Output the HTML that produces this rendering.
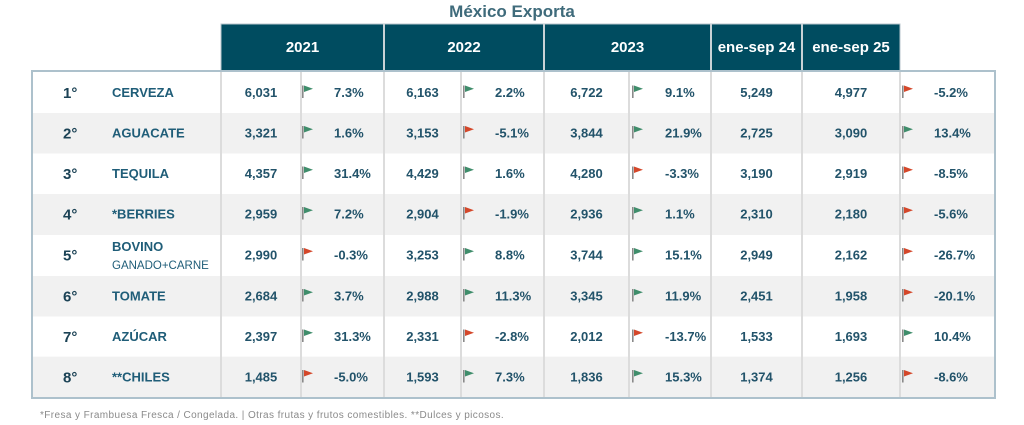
<!DOCTYPE html>
<html><head><meta charset="utf-8"><style>
html,body{margin:0;padding:0;background:#fff;width:1024px;height:425px;overflow:hidden}
svg{display:block}
text{font-family:"Liberation Sans",sans-serif}
.v{font-weight:bold;font-size:13px;fill:#22536a;text-anchor:middle}
.p{font-weight:bold;font-size:13px;fill:#22536a;text-anchor:start}
.n{font-weight:bold;font-size:13px;fill:#1f5d78}
.r{font-weight:bold;font-size:15px;fill:#1b4255}
.h{font-weight:bold;font-size:15px;fill:#ffffff;text-anchor:middle}
</style></head><body>
<svg width="1024" height="425" viewBox="0 0 1024 425" xmlns="http://www.w3.org/2000/svg">
<defs>
<g id="fg"><rect x="0" y="-7" width="1.6" height="12.5" fill="#8a8a8a"/><polygon points="2,-7 11,-3.8 2,-0.5" fill="#3f8d6b"/></g>
<g id="fr"><rect x="0" y="-7" width="1.6" height="12.5" fill="#8a8a8a"/><polygon points="2,-7 11,-3.8 2,-0.5" fill="#d4472a"/></g>
</defs>
<text x="512" y="17" text-anchor="middle" style="font-weight:bold;font-size:17px;fill:#3f6b7b">México Exporta</text>
<!-- header -->
<rect x="221" y="24" width="679" height="47" fill="#004c60"/>
<rect x="221" y="24" width="679" height="47" fill="none" stroke="#b9c6cc" stroke-width="1"/>
<g stroke="#c9d2d6" stroke-width="2">
<line x1="384" y1="24" x2="384" y2="71"/><line x1="544" y1="24" x2="544" y2="71"/>
<line x1="711" y1="24" x2="711" y2="71"/><line x1="802" y1="24" x2="802" y2="71"/>
</g>
<text class="h" x="302.5" y="52">2021</text>
<text class="h" x="464" y="52">2022</text>
<text class="h" x="627.5" y="52">2023</text>
<text class="h" x="756.5" y="52">ene-sep 24</text>
<text class="h" x="851" y="52">ene-sep 25</text>
<!-- rows -->
<rect x="32" y="71" width="963" height="42" fill="#ffffff"/>
<rect x="32" y="113" width="963" height="40.5" fill="#f1f1f1"/>
<rect x="32" y="153.5" width="963" height="40.5" fill="#ffffff"/>
<rect x="32" y="194" width="963" height="41" fill="#f1f1f1"/>
<rect x="32" y="235" width="963" height="41" fill="#ffffff"/>
<rect x="32" y="276" width="963" height="40.5" fill="#f1f1f1"/>
<rect x="32" y="316.5" width="963" height="40.2" fill="#ffffff"/>
<rect x="32" y="356.7" width="963" height="41.3" fill="#f1f1f1"/>
<g stroke="#dcdcdc" stroke-width="2">
<line x1="221" y1="71" x2="221" y2="398"/><line x1="301" y1="71" x2="301" y2="398"/>
<line x1="384" y1="71" x2="384" y2="398"/><line x1="461" y1="71" x2="461" y2="398"/>
<line x1="544" y1="71" x2="544" y2="398"/><line x1="629" y1="71" x2="629" y2="398"/>
<line x1="711" y1="71" x2="711" y2="398"/><line x1="802" y1="71" x2="802" y2="398"/>
<line x1="900" y1="71" x2="900" y2="398"/>
</g>
<rect x="32" y="71" width="963" height="327" fill="none" stroke="#adc1cc" stroke-width="2"/>

<!-- row 1 -->
<g transform="translate(0,92.5)">
<text class="r" x="63" y="5.5">1°</text><text class="n" x="112" y="4.5">CERVEZA</text>
<text class="v" x="261" y="4.5">6,031</text><use href="#fg" x="302"/><text class="p" x="334" y="4.5">7.3%</text>
<text class="v" x="422.5" y="4.5">6,163</text><use href="#fg" x="463"/><text class="p" x="495" y="4.5">2.2%</text>
<text class="v" x="586.5" y="4.5">6,722</text><use href="#fg" x="632"/><text class="p" x="665" y="4.5">9.1%</text>
<text class="v" x="756.5" y="4.5">5,249</text><text class="v" x="851" y="4.5">4,977</text>
<use href="#fr" x="902"/><text class="p" x="934" y="4.5">-5.2%</text>
</g>
<!-- row 2 -->
<g transform="translate(0,133)">
<text class="r" x="63" y="5.5">2°</text><text class="n" x="112" y="4.5">AGUACATE</text>
<text class="v" x="261" y="4.5">3,321</text><use href="#fg" x="302"/><text class="p" x="334" y="4.5">1.6%</text>
<text class="v" x="422.5" y="4.5">3,153</text><use href="#fr" x="463"/><text class="p" x="495" y="4.5">-5.1%</text>
<text class="v" x="586.5" y="4.5">3,844</text><use href="#fg" x="632"/><text class="p" x="665" y="4.5">21.9%</text>
<text class="v" x="756.5" y="4.5">2,725</text><text class="v" x="851" y="4.5">3,090</text>
<use href="#fg" x="902"/><text class="p" x="934" y="4.5">13.4%</text>
</g>
<!-- row 3 -->
<g transform="translate(0,173.5)">
<text class="r" x="63" y="5.5">3°</text><text class="n" x="112" y="4.5">TEQUILA</text>
<text class="v" x="261" y="4.5">4,357</text><use href="#fg" x="302"/><text class="p" x="334" y="4.5">31.4%</text>
<text class="v" x="422.5" y="4.5">4,429</text><use href="#fg" x="463"/><text class="p" x="495" y="4.5">1.6%</text>
<text class="v" x="586.5" y="4.5">4,280</text><use href="#fr" x="632"/><text class="p" x="665" y="4.5">-3.3%</text>
<text class="v" x="756.5" y="4.5">3,190</text><text class="v" x="851" y="4.5">2,919</text>
<use href="#fr" x="902"/><text class="p" x="934" y="4.5">-8.5%</text>
</g>
<!-- row 4 -->
<g transform="translate(0,214)">
<text class="r" x="63" y="5.5">4°</text><text class="n" x="112" y="4.5">*BERRIES</text>
<text class="v" x="261" y="4.5">2,959</text><use href="#fg" x="302"/><text class="p" x="334" y="4.5">7.2%</text>
<text class="v" x="422.5" y="4.5">2,904</text><use href="#fr" x="463"/><text class="p" x="495" y="4.5">-1.9%</text>
<text class="v" x="586.5" y="4.5">2,936</text><use href="#fg" x="632"/><text class="p" x="665" y="4.5">1.1%</text>
<text class="v" x="756.5" y="4.5">2,310</text><text class="v" x="851" y="4.5">2,180</text>
<use href="#fr" x="902"/><text class="p" x="934" y="4.5">-5.6%</text>
</g>
<!-- row 5 -->
<g transform="translate(0,255)">
<text class="r" x="63" y="5.5">5°</text>
<text class="n" x="112" y="-4">BOVINO</text>
<text x="112" y="14" style="font-size:11.5px;fill:#1f5d78">GANADO+CARNE</text>
<text class="v" x="261" y="4.5">2,990</text><use href="#fr" x="302"/><text class="p" x="334" y="4.5">-0.3%</text>
<text class="v" x="422.5" y="4.5">3,253</text><use href="#fg" x="463"/><text class="p" x="495" y="4.5">8.8%</text>
<text class="v" x="586.5" y="4.5">3,744</text><use href="#fg" x="632"/><text class="p" x="665" y="4.5">15.1%</text>
<text class="v" x="756.5" y="4.5">2,949</text><text class="v" x="851" y="4.5">2,162</text>
<use href="#fr" x="902"/><text class="p" x="934" y="4.5">-26.7%</text>
</g>
<!-- row 6 -->
<g transform="translate(0,296)">
<text class="r" x="63" y="5.5">6°</text><text class="n" x="112" y="4.5">TOMATE</text>
<text class="v" x="261" y="4.5">2,684</text><use href="#fg" x="302"/><text class="p" x="334" y="4.5">3.7%</text>
<text class="v" x="422.5" y="4.5">2,988</text><use href="#fg" x="463"/><text class="p" x="495" y="4.5">11.3%</text>
<text class="v" x="586.5" y="4.5">3,345</text><use href="#fg" x="632"/><text class="p" x="665" y="4.5">11.9%</text>
<text class="v" x="756.5" y="4.5">2,451</text><text class="v" x="851" y="4.5">1,958</text>
<use href="#fr" x="902"/><text class="p" x="934" y="4.5">-20.1%</text>
</g>
<!-- row 7 -->
<g transform="translate(0,336.5)">
<text class="r" x="63" y="5.5">7°</text><text class="n" x="112" y="4.5">AZÚCAR</text>
<text class="v" x="261" y="4.5">2,397</text><use href="#fg" x="302"/><text class="p" x="334" y="4.5">31.3%</text>
<text class="v" x="422.5" y="4.5">2,331</text><use href="#fr" x="463"/><text class="p" x="495" y="4.5">-2.8%</text>
<text class="v" x="586.5" y="4.5">2,012</text><use href="#fr" x="632"/><text class="p" x="665" y="4.5">-13.7%</text>
<text class="v" x="756.5" y="4.5">1,533</text><text class="v" x="851" y="4.5">1,693</text>
<use href="#fg" x="902"/><text class="p" x="934" y="4.5">10.4%</text>
</g>
<!-- row 8 -->
<g transform="translate(0,377)">
<text class="r" x="63" y="5.5">8°</text><text class="n" x="112" y="4.5">**CHILES</text>
<text class="v" x="261" y="4.5">1,485</text><use href="#fr" x="302"/><text class="p" x="334" y="4.5">-5.0%</text>
<text class="v" x="422.5" y="4.5">1,593</text><use href="#fg" x="463"/><text class="p" x="495" y="4.5">7.3%</text>
<text class="v" x="586.5" y="4.5">1,836</text><use href="#fg" x="632"/><text class="p" x="665" y="4.5">15.3%</text>
<text class="v" x="756.5" y="4.5">1,374</text><text class="v" x="851" y="4.5">1,256</text>
<use href="#fr" x="902"/><text class="p" x="934" y="4.5">-8.6%</text>
</g>

<text x="40" y="418" style="font-size:10px;fill:#8a8a8a;letter-spacing:0.4px">*Fresa y Frambuesa Fresca / Congelada. | Otras frutas y frutos comestibles. **Dulces y picosos.</text>
</svg>
</body></html>
